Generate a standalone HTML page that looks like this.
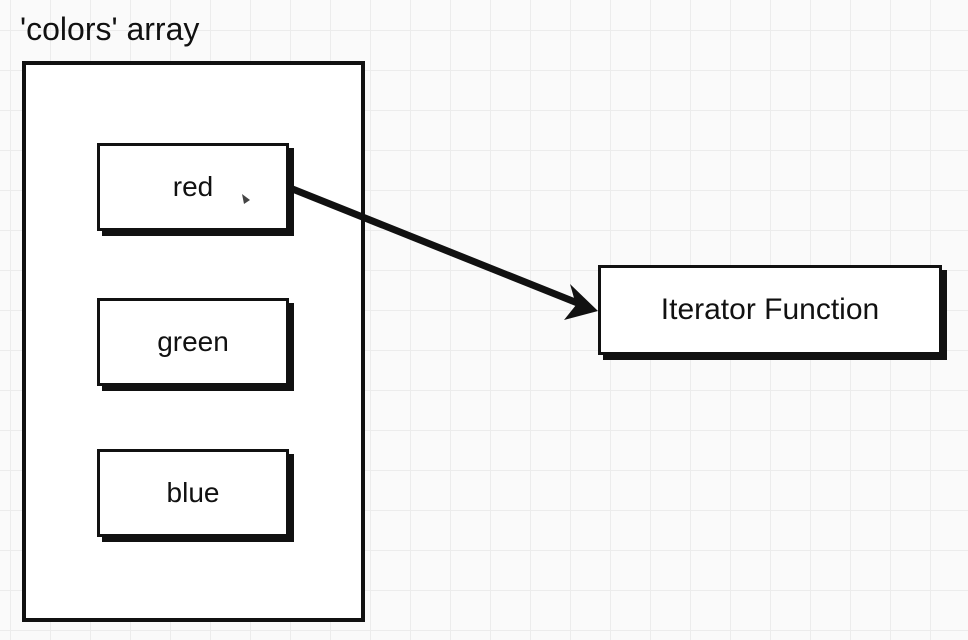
<!DOCTYPE html>
<html><head><style>
body{margin:0;width:968px;height:640px;overflow:hidden;background:#fafafa;
background-image:linear-gradient(#ececec 1px,transparent 1px),linear-gradient(90deg,#ececec 1px,transparent 1px);
background-size:40px 40px;background-position:10px 30px;font-family:"Liberation Sans",sans-serif;}
.t{position:absolute;color:#111;}
.b{position:absolute;background:#fff;border:3px solid #111;box-shadow:5px 5px 0 #111;box-sizing:border-box;display:flex;align-items:center;justify-content:center;font-size:28px;color:#111;}
</style></head><body>
<div class="t" style="left:20px;top:11px;font-size:32px;">'colors' array</div>
<div style="position:absolute;left:22px;top:61px;width:343px;height:561px;border:4px solid #111;box-sizing:border-box;background:#fff;"></div>
<div class="b" style="left:97px;top:143px;width:192px;height:88px;">red</div>
<div class="b" style="left:97px;top:298px;width:192px;height:88px;">green</div>
<div class="b" style="left:97px;top:449px;width:192px;height:88px;">blue</div>
<div class="b" style="left:598px;top:265px;width:344px;height:90px;font-size:30px;">Iterator Function</div>
<svg style="position:absolute;left:0;top:0" width="968" height="640">
<line x1="290" y1="188" x2="580" y2="304" stroke="#111" stroke-width="7"/>
<polygon points="598,311 564,320 576,305 570,284" fill="#111"/>
<polygon points="242,194 250,200 244,204" fill="#444"/>
</svg>
</body></html>
